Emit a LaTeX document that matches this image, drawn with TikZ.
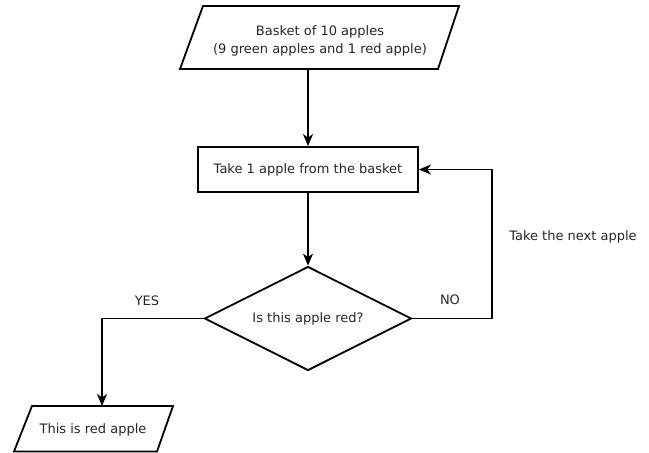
\documentclass[tikz,border=0pt]{standalone}
\usepackage{fontspec}
\setmainfont{DejaVu Sans}
\usetikzlibrary{shapes.geometric,arrows.meta}
\begin{document}
\begin{tikzpicture}[x=1pt,y=-1pt,
  every node/.style={font=\fontsize{13}{18}\selectfont, text=black!85},
  shapeline/.style={draw=black, line width=1.8pt, line join=miter},
  conn/.style={draw=black, line width=1.8pt, -{Stealth[length=12pt,width=10pt,inset=3.5pt]}},
  lbl/.style={inner sep=0pt}]
\useasboundingbox (0,0) rectangle (649,453);
% top parallelogram
\draw[shapeline] (203,6) -- (459,6) -- (438,69) -- (180,69) -- cycle;
\node[lbl, align=center] (basket) at (320,41) {Basket of 10 apples\\(9 green apples and 1 red apple)};
\coordinate (basketbot) at (308,69);
% process
\node[shapeline, minimum width=220pt, minimum height=45pt, inner sep=0pt] (take) at (308,169.5) {Take 1 apple from the basket};
% decision
\node[shapeline, diamond, shape aspect=2, minimum width=207pt, minimum height=104pt, inner sep=0pt] (dec) at (308,318.5) {Is this apple red?};
% bottom parallelogram
\draw[shapeline] (32,406) -- (173,406) -- (157,451.5) -- (14,451.5) -- cycle;
\node[lbl] (red) at (93,430) {This is red apple};
\coordinate (redtop) at (102,406);
% connectors
\draw[conn] (basketbot) -- (take.north);
\draw[conn] (take.south) -- (dec.north);
\coordinate (yc) at (102,318.5);
\draw[conn] (dec.west) -- (yc) -- (redtop);
\coordinate (nc1) at (492,318.5);
\coordinate (nc2) at (492,169.5);
\draw[conn] (dec.east) -- (nc1) -- (nc2) -- (take.east);
% labels
\node[lbl] (yes) at (147,301) {YES};
\node[lbl] (no) at (450,300) {NO};
\node[lbl] (next) at (573,237) {Take the next apple};
\end{tikzpicture}
\end{document}
